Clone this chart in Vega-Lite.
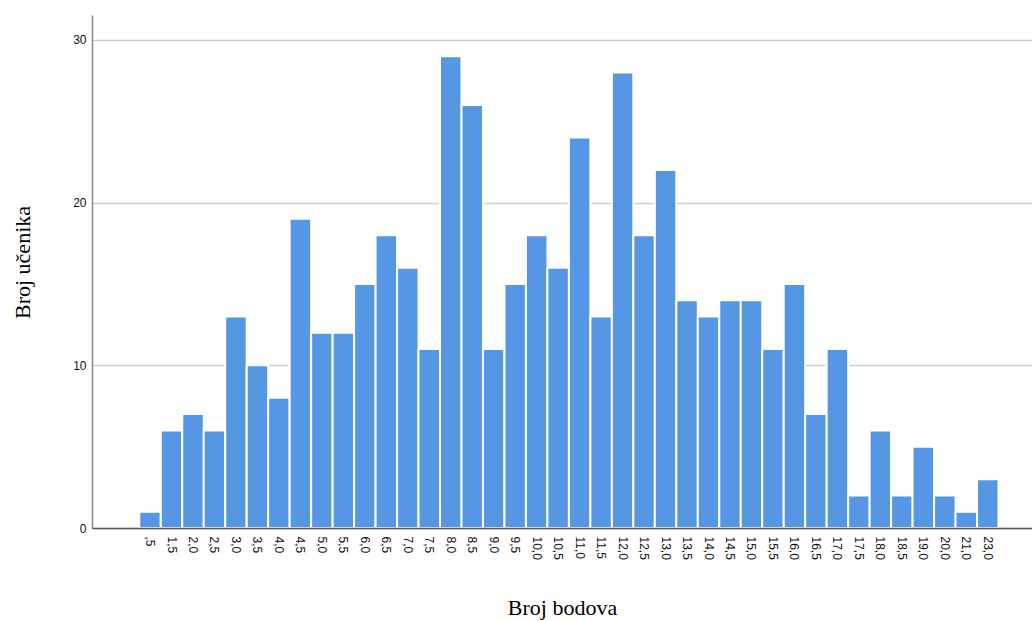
{
  "$schema": "https://vega.github.io/schema/vega-lite/v6.json",
  "autosize": "none",
  "width": 940,
  "height": 513,
  "padding": {"left": 92, "top": 15, "right": 0, "bottom": 93},
  "background": "white",
  "config": {"view": {"stroke": null}},
  "data": {
    "values": [
      {"bod": ",5", "n": 1}, {"bod": "1,5", "n": 6}, {"bod": "2,0", "n": 7}, {"bod": "2,5", "n": 6},
      {"bod": "3,0", "n": 13}, {"bod": "3,5", "n": 10}, {"bod": "4,0", "n": 8}, {"bod": "4,5", "n": 19},
      {"bod": "5,0", "n": 12}, {"bod": "5,5", "n": 12}, {"bod": "6,0", "n": 15}, {"bod": "6,5", "n": 18},
      {"bod": "7,0", "n": 16}, {"bod": "7,5", "n": 11}, {"bod": "8,0", "n": 29}, {"bod": "8,5", "n": 26},
      {"bod": "9,0", "n": 11}, {"bod": "9,5", "n": 15}, {"bod": "10,0", "n": 18}, {"bod": "10,5", "n": 16},
      {"bod": "11,0", "n": 24}, {"bod": "11,5", "n": 13}, {"bod": "12,0", "n": 28}, {"bod": "12,5", "n": 18},
      {"bod": "13,0", "n": 22}, {"bod": "13,5", "n": 14}, {"bod": "14,0", "n": 13}, {"bod": "14,5", "n": 14},
      {"bod": "15,0", "n": 14}, {"bod": "15,5", "n": 11}, {"bod": "16,0", "n": 15}, {"bod": "16,5", "n": 7},
      {"bod": "17,0", "n": 11}, {"bod": "17,5", "n": 2}, {"bod": "18,0", "n": 6}, {"bod": "18,5", "n": 2},
      {"bod": "19,0", "n": 5}, {"bod": "20,0", "n": 2}, {"bod": "21,0", "n": 1}, {"bod": "23,0", "n": 3}
    ]
  },
  "mark": {"type": "bar", "color": "#5596e5", "stroke": "white", "strokeWidth": 2},
  "encoding": {
    "x": {
      "field": "bod",
      "type": "ordinal",
      "sort": null,
      "title": "Broj bodova",
      "scale": {
        "domain": ["_a", "_b", ",5", "1,5", "2,0", "2,5", "3,0", "3,5", "4,0", "4,5", "5,0", "5,5",
          "6,0", "6,5", "7,0", "7,5", "8,0", "8,5", "9,0", "9,5", "10,0", "10,5", "11,0", "11,5",
          "12,0", "12,5", "13,0", "13,5", "14,0", "14,5", "15,0", "15,5", "16,0", "16,5", "17,0",
          "17,5", "18,0", "18,5", "19,0", "20,0", "21,0", "23,0", "_c"],
        "paddingInner": 0,
        "paddingOuter": 0.38,
        "align": 0.265
      },
      "axis": {
        "zindex": 1,
        "labelExpr": "indexof(datum.value, '_') >= 0 ? '' : datum.value",
        "labelAngle": 90,
        "labelAlign": "left",
        "labelBaseline": "middle",
        "labelFont": "Liberation Sans",
        "labelFontSize": 12,
        "labelColor": "#111111",
        "labelPadding": 8,
        "ticks": false,
        "domainColor": "#555555",
        "domainWidth": 1.5,
        "titleFont": "Liberation Serif",
        "titleFontSize": 22,
        "titleFontWeight": "normal",
        "titleColor": "black",
        "titleX": 470,
        "titleY": 86,
        "titleAlign": "center",
        "titleBaseline": "alphabetic"
      }
    },
    "y": {
      "field": "n",
      "type": "quantitative",
      "title": "Broj učenika",
      "scale": {"domain": [0, 31.53], "nice": false},
      "axis": {
        "values": [0, 10, 20, 30],
        "ticks": false,
        "labelPadding": 6,
        "labelFont": "Liberation Sans",
        "labelFontSize": 12,
        "labelColor": "#111111",
        "domainColor": "#888888",
        "domainWidth": 1.5,
        "grid": true,
        "gridColor": "#d0d0d0",
        "gridWidth": 1.5,
        "titleFont": "Liberation Serif",
        "titleFontSize": 22,
        "titleFontWeight": "normal",
        "titleColor": "black",
        "titleAngle": -90,
        "titleAlign": "center",
        "titleBaseline": "middle",
        "titleX": -70,
        "titleY": 247
      }
    }
  }
}
